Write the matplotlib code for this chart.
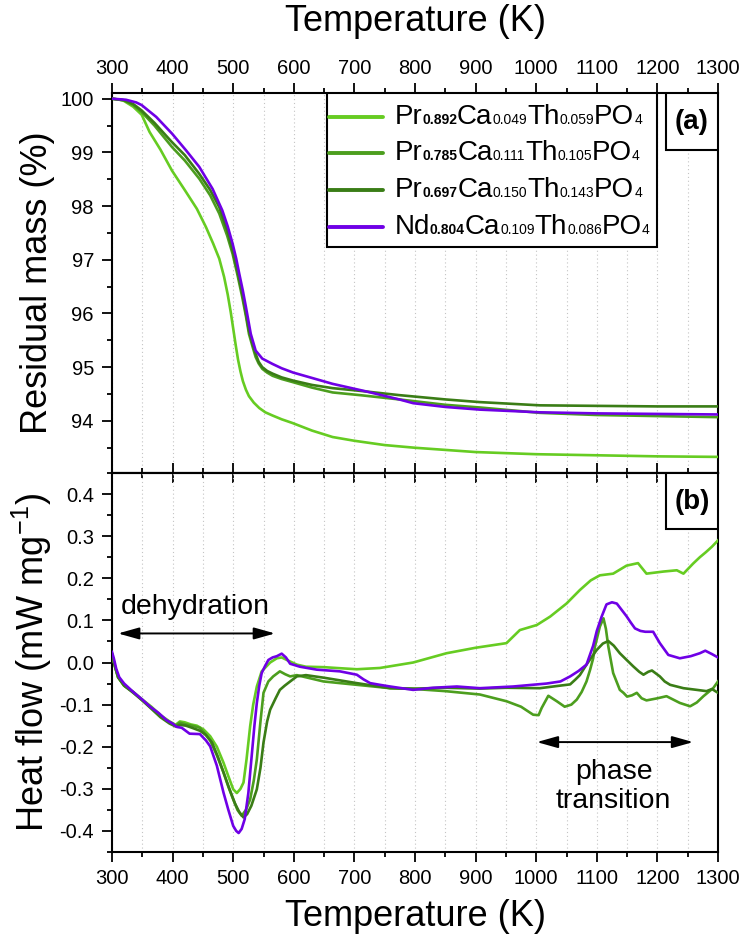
import matplotlib
matplotlib.use("Agg")
import matplotlib.pyplot as plt
from matplotlib.ticker import MultipleLocator, FormatStrFormatter
from matplotlib.offsetbox import TextArea, DrawingArea, HPacker, AnchoredOffsetbox
from matplotlib.lines import Line2D
from matplotlib.patches import Rectangle, ArrowStyle

plt.rcParams["font.family"] = ["Liberation Sans", "DejaVu Sans"]
plt.rcParams["axes.unicode_minus"] = False
plt.rcParams["mathtext.fontset"] = "custom"
plt.rcParams["mathtext.rm"] = "Liberation Sans"
plt.rcParams["mathtext.default"] = "regular"

# ---------------- sample labels and colours ----------------
labels = [
    [("Pr", "0.892", True), ("Ca", "0.049", False), ("Th", "0.059", False), ("PO", "4", False)],
    [("Pr", "0.785", True), ("Ca", "0.111", False), ("Th", "0.105", False), ("PO", "4", False)],
    [("Pr", "0.697", True), ("Ca", "0.150", False), ("Th", "0.143", False), ("PO", "4", False)],
    [("Nd", "0.804", True), ("Ca", "0.109", False), ("Th", "0.086", False), ("PO", "4", False)],
]
colors = ["#66cc22", "#4c9e1e", "#3a7d16", "#6f00e6"]

# ---------------- TGA: residual mass (%) ----------------
tga_T_pr892 = [300, 318, 335, 349, 362, 380, 399, 420, 440, 455, 467, 477, 485, 491, 496, 500,
               504, 508, 512, 516, 521, 526, 534, 543, 553, 565, 580, 598, 630, 664, 700, 750,
               800, 850, 900, 1000, 1100, 1200, 1300]
tga_m_pr892 = [100.0, 99.97, 99.85, 99.7, 99.38, 99.05, 98.66, 98.3, 97.95, 97.61, 97.3, 97.02,
               96.68, 96.35, 96.02, 95.72, 95.42, 95.14, 94.92, 94.74, 94.58, 94.46, 94.34,
               94.24, 94.16, 94.1, 94.03, 93.96, 93.82, 93.7, 93.63, 93.55, 93.5, 93.46, 93.42,
               93.38, 93.36, 93.34, 93.33]

tga_T_pr785 = [300, 320, 335, 349, 370, 399, 420, 444, 462, 477, 490, 499, 507, 515, 521, 526,
               532, 537, 542, 548, 556, 565, 580, 599, 630, 664, 709, 774, 850, 907, 1006, 1100,
               1200, 1300]
tga_m_pr785 = [100.0, 99.97, 99.88, 99.75, 99.5, 99.1, 98.85, 98.51, 98.2, 97.86, 97.45, 97.11,
               96.72, 96.3, 95.95, 95.62, 95.38, 95.19, 95.07, 94.97, 94.9, 94.84, 94.78, 94.72,
               94.62, 94.53, 94.48, 94.4, 94.3, 94.25, 94.15, 94.11, 94.09, 94.07]

tga_T_pr697 = [300, 320, 335, 349, 370, 399, 420, 444, 462, 477, 490, 499, 507, 515, 521, 526,
               532, 537, 542, 548, 556, 565, 580, 599, 630, 664, 709, 774, 850, 907, 1006, 1100,
               1200, 1300]
tga_m_pr697 = [100.0, 99.97, 99.9, 99.78, 99.55, 99.19, 98.95, 98.6, 98.3, 97.98, 97.55, 97.17,
               96.78, 96.37, 96.0, 95.68, 95.43, 95.25, 95.1, 95.0, 94.93, 94.88, 94.81, 94.75,
               94.67, 94.61, 94.56, 94.48, 94.4, 94.35, 94.29, 94.28, 94.27, 94.27]

tga_T_nd804 = [300, 323, 340, 349, 373, 399, 422, 444, 466, 482, 491, 499, 505, 510, 516, 521,
               529, 537, 548, 565, 580, 599, 630, 664, 719, 774, 797, 850, 907, 1006, 1100, 1200,
               1300]
tga_m_nd804 = [100.0, 99.98, 99.93, 99.88, 99.66, 99.35, 99.04, 98.73, 98.32, 97.92, 97.62,
               97.3, 97.02, 96.74, 96.42, 96.12, 95.62, 95.31, 95.16, 95.06, 94.98, 94.9, 94.8,
               94.69, 94.55, 94.4, 94.33, 94.26, 94.21, 94.16, 94.14, 94.13, 94.12]

# ---------------- DSC: heat flow (mW mg^-1) ----------------
dsc_T_pr892 = [300, 305, 310, 320, 335, 350, 365, 380, 395, 405, 412, 420, 430, 440, 451, 462,
               473, 484, 492, 500, 506, 512, 517, 522, 528, 533, 539, 547, 561, 572, 580, 590,
               605, 620, 649, 670, 704, 742, 759, 797, 852, 900, 951, 973, 1001, 1023, 1050,
               1072, 1090, 1105, 1127, 1149, 1168, 1182, 1210, 1232, 1243, 1259, 1270, 1280,
               1290, 1300]
dsc_h_pr892 = [0.02, -0.01, -0.035, -0.055, -0.07, -0.088, -0.105, -0.125, -0.14, -0.148,
               -0.14, -0.142, -0.147, -0.15, -0.159, -0.175, -0.2, -0.238, -0.27, -0.301,
               -0.31, -0.3, -0.285, -0.23, -0.151, -0.1, -0.057, -0.021, 0.0, 0.01, 0.012,
               0.005, -0.005, -0.01, -0.011, -0.013, -0.016, -0.013, -0.009, 0.0, 0.022, 0.035,
               0.046, 0.077, 0.089, 0.109, 0.14, 0.172, 0.195, 0.207, 0.211, 0.23, 0.236, 0.211,
               0.216, 0.219, 0.211, 0.235, 0.25, 0.262, 0.275, 0.29]

dsc_T_pr785 = [300, 305, 310, 320, 335, 350, 365, 380, 395, 405, 412, 422, 432, 445, 451, 462,
               473, 484, 492, 500, 507, 514, 521, 528, 534, 539, 545, 550, 558, 566, 577, 586,
               594, 605, 649, 704, 759, 800, 850, 907, 951, 975, 995, 1004, 1009, 1020, 1034,
               1047, 1058, 1067, 1075, 1083, 1089, 1094, 1097, 1105, 1111, 1115, 1119, 1127,
               1138, 1144, 1150, 1158, 1166, 1174, 1182, 1200, 1215, 1237, 1254, 1265, 1276,
               1292, 1300]
dsc_h_pr785 = [0.02, -0.01, -0.035, -0.055, -0.07, -0.09, -0.108, -0.128, -0.142, -0.15,
               -0.143, -0.147, -0.15, -0.155, -0.165, -0.185, -0.22, -0.261, -0.295, -0.325,
               -0.35, -0.364, -0.35, -0.325, -0.28, -0.23, -0.14, -0.072, -0.045, -0.033,
               -0.021, -0.028, -0.033, -0.03, -0.045, -0.053, -0.061, -0.063, -0.068, -0.076,
               -0.092, -0.105, -0.124, -0.125, -0.108, -0.079, -0.092, -0.105, -0.1, -0.088,
               -0.07, -0.045, -0.017, 0.01, 0.038, 0.085, 0.105, 0.08, 0.038, -0.025, -0.065,
               -0.072, -0.081, -0.078, -0.072, -0.085, -0.09, -0.085, -0.08, -0.096, -0.104,
               -0.095, -0.08, -0.061, -0.045]

dsc_T_pr697 = [300, 305, 310, 320, 335, 350, 365, 380, 395, 405, 412, 422, 432, 445, 455, 465,
               475, 485, 495, 503, 510, 517, 523, 530, 539, 545, 550, 556, 561, 570, 577, 585,
               594, 605, 620, 649, 704, 759, 800, 850, 907, 951, 1006, 1039, 1056, 1065, 1072,
               1083, 1094, 1100, 1110, 1119, 1128, 1138, 1150, 1160, 1170, 1177, 1185, 1191,
               1204, 1212, 1221, 1243, 1265, 1281, 1290, 1300]
dsc_h_pr697 = [0.02, -0.01, -0.035, -0.055, -0.072, -0.09, -0.11, -0.13, -0.145, -0.152,
               -0.148, -0.15, -0.155, -0.162, -0.172, -0.19, -0.225, -0.265, -0.305, -0.335,
               -0.355, -0.368, -0.36, -0.34, -0.301, -0.25, -0.19, -0.14, -0.112, -0.085,
               -0.065, -0.055, -0.045, -0.033, -0.03, -0.036, -0.049, -0.061, -0.062, -0.06,
               -0.062, -0.06, -0.061, -0.055, -0.052, -0.04, -0.03, -0.005, 0.018, 0.03, 0.045,
               0.051, 0.04, 0.022, 0.005, -0.009, -0.022, -0.029, -0.022, -0.019, -0.033,
               -0.045, -0.053, -0.061, -0.065, -0.068, -0.063, -0.072]

dsc_T_nd804 = [300, 303, 307, 312, 320, 335, 350, 363, 377, 390, 400, 407, 415, 428, 445, 455,
               462, 473, 484, 492, 500, 505, 509, 514, 519, 525, 530, 535, 539, 543, 547, 552,
               558, 565, 572, 580, 587, 594, 610, 638, 676, 704, 715, 726, 742, 759, 797, 830,
               869, 907, 962, 1017, 1040, 1056, 1070, 1083, 1094, 1100, 1108, 1116, 1125, 1133,
               1141, 1149, 1156, 1163, 1172, 1180, 1193, 1204, 1212, 1218, 1237, 1255, 1270,
               1279, 1290, 1300]
dsc_h_nd804 = [0.025, 0.01, -0.015, -0.035, -0.05, -0.07, -0.088, -0.105, -0.12, -0.137,
               -0.145, -0.153, -0.155, -0.169, -0.17, -0.185, -0.199, -0.245, -0.309, -0.35,
               -0.388, -0.4, -0.405, -0.395, -0.372, -0.31, -0.23, -0.15, -0.096, -0.055,
               -0.025, -0.01, 0.006, 0.012, 0.015, 0.021, 0.012, -0.003, -0.01, -0.017, -0.021,
               -0.029, -0.04, -0.049, -0.053, -0.057, -0.065, -0.06, -0.057, -0.061, -0.057,
               -0.05, -0.045, -0.033, -0.02, -0.005, 0.04, 0.075, 0.109, 0.138, 0.143, 0.14,
               0.125, 0.11, 0.095, 0.081, 0.075, 0.073, 0.073, 0.046, 0.03, 0.018, 0.01, 0.015,
               0.022, 0.028, 0.02, 0.012]

tga_series = [(tga_T_pr892, tga_m_pr892), (tga_T_pr785, tga_m_pr785),
              (tga_T_pr697, tga_m_pr697), (tga_T_nd804, tga_m_nd804)]
dsc_series = [(dsc_T_pr892, dsc_h_pr892), (dsc_T_pr785, dsc_h_pr785),
              (dsc_T_pr697, dsc_h_pr697), (dsc_T_nd804, dsc_h_nd804)]

# ---------------- figure ----------------
fig = plt.figure(figsize=(7.45, 9.41), dpi=100)
L, W = 0.15034, 0.81342
ax1 = fig.add_axes([L, 0.49734, W, 0.40351])
ax2 = fig.add_axes([L, 0.09458, W, 0.40276])

TICK_FS = 14.5
LABEL_FS = 26
SPINE_LW = 1.5
MAJ, MIN = 7, 3.5

for ax in (ax1, ax2):
    ax.set_xlim(300, 1300)
    ax.xaxis.set_major_locator(MultipleLocator(100))
    ax.xaxis.set_minor_locator(MultipleLocator(50))
    ax.grid(axis="x", which="both", ls=(0, (1, 2.5)), color="#c4c4c4", lw=0.8, zorder=0)
    for s in ax.spines.values():
        s.set_linewidth(SPINE_LW)
    ax.tick_params(axis="y", which="both", direction="out", right=False, labelsize=TICK_FS,
                   pad=6, width=1.3)
    ax.tick_params(axis="y", which="major", length=MAJ)
    ax.tick_params(axis="y", which="minor", length=MIN)
    ax.tick_params(axis="x", which="both", width=1.3, labelsize=TICK_FS, direction="out")
    ax.tick_params(axis="x", which="major", length=MAJ)
    ax.tick_params(axis="x", which="minor", length=MIN)

# top panel: residual mass, temperature scale on top
for (T, m), c in zip(tga_series, colors):
    ax1.plot(T, m, color=c, lw=1.9, zorder=3)
ax1.set_ylim(93.03, 100.1)
ax1.yaxis.set_major_locator(MultipleLocator(1))
ax1.yaxis.set_minor_locator(MultipleLocator(0.5))
ax1.tick_params(axis="x", which="both", top=True, bottom=False, labeltop=True,
                labelbottom=False, pad=4)
ax1.xaxis.set_label_position("top")
ax1.set_xlabel("Temperature (K)", fontsize=LABEL_FS, labelpad=20)
ax1.set_ylabel("Residual mass (%)", fontsize=LABEL_FS, labelpad=4)

# bottom panel: heat flow
for (T, h), c in zip(dsc_series, colors):
    ax2.plot(T, h, color=c, lw=1.9, zorder=3)
ax2.set_ylim(-0.45, 0.45)
ax2.yaxis.set_major_locator(MultipleLocator(0.1))
ax2.yaxis.set_minor_locator(MultipleLocator(0.05))
ax2.yaxis.set_major_formatter(FormatStrFormatter("%.1f"))
ax2.tick_params(axis="x", which="both", bottom=True, top=False, labelbottom=True, pad=5)
ax2.set_xlabel("Temperature (K)", fontsize=LABEL_FS, labelpad=8)
ax2.set_ylabel("Heat flow (mW mg$^{-1}$)", fontsize=LABEL_FS, labelpad=4)

# ticks crossing the shared border between the two panels
mid = ax2.secondary_xaxis("top")
mid.xaxis.set_major_locator(MultipleLocator(100))
mid.xaxis.set_minor_locator(MultipleLocator(50))
mid.tick_params(axis="x", which="both", direction="inout", width=1.3, labeltop=False)
mid.tick_params(axis="x", which="major", length=2 * MAJ)
mid.tick_params(axis="x", which="minor", length=2 * MIN)
mid.spines["top"].set_linewidth(SPINE_LW)

fig.align_ylabels([ax1, ax2])

# legend box with formula labels
ax1.add_patch(Rectangle((0.3548, 0.595), 0.8993 - 0.3548, 1 - 0.595, transform=ax1.transAxes,
                        facecolor="white", edgecolor="black", lw=1.5, zorder=5))
row_y = [0.938, 0.842, 0.745, 0.649]
for parts, c, yc in zip(labels, colors, row_y):
    da = DrawingArea(42, 10, 0, 0)
    da.add_artist(Line2D([1.5, 40.5], [5, 5], lw=2.8, color=c, solid_capstyle="round"))
    pieces = []
    for sym, sub, bold in parts:
        pieces.append(TextArea(sym, textprops=dict(fontsize=20, color="black")))
        pieces.append(TextArea(sub, textprops=dict(fontsize=10, color="black",
                                                   fontweight="bold" if bold else "normal")))
    text_row = HPacker(children=pieces, align="baseline", pad=0, sep=0)
    row = HPacker(children=[da, text_row], align="center", pad=0, sep=6.5)
    box = AnchoredOffsetbox(loc="center left", child=row, pad=0, borderpad=0, frameon=False,
                            bbox_to_anchor=(0.355, yc), bbox_transform=ax1.transAxes)
    box.set_zorder(6)
    ax1.add_artist(box)

# panel tags
ax1.add_patch(Rectangle((0.914, 0.851), 0.086, 0.149, transform=ax1.transAxes,
                        facecolor="white", edgecolor="black", lw=1.5, zorder=5))
ax1.text(0.957, 0.924, "(a)", transform=ax1.transAxes, ha="center", va="center",
         fontsize=20, fontweight="bold", zorder=7)
ax2.add_patch(Rectangle((0.914, 0.851), 0.086, 0.149, transform=ax2.transAxes,
                        facecolor="white", edgecolor="black", lw=1.5, zorder=5))
ax2.text(0.957, 0.924, "(b)", transform=ax2.transAxes, ha="center", va="center",
         fontsize=20, fontweight="bold", zorder=7)

# annotations
arrow = ArrowStyle("<|-|>", head_length=0.64, head_width=0.18)
ax2.annotate("", xy=(310, 0.069), xytext=(569, 0.069),
             arrowprops=dict(arrowstyle=arrow, color="black", lw=1.4, mutation_scale=20,
                             shrinkA=0, shrinkB=0), zorder=6)
ax2.text(437, 0.132, "dehydration", ha="center", va="center", fontsize=20.5, zorder=6)
ax2.annotate("", xy=(1001, -0.189), xytext=(1259, -0.189),
             arrowprops=dict(arrowstyle=arrow, color="black", lw=1.4, mutation_scale=20,
                             shrinkA=0, shrinkB=0), zorder=6)
ax2.text(1128, -0.295, "phase\ntransition", ha="center", va="center", fontsize=20.5,
         linespacing=1.15, zorder=6)

fig.savefig("out.png", dpi=100)
